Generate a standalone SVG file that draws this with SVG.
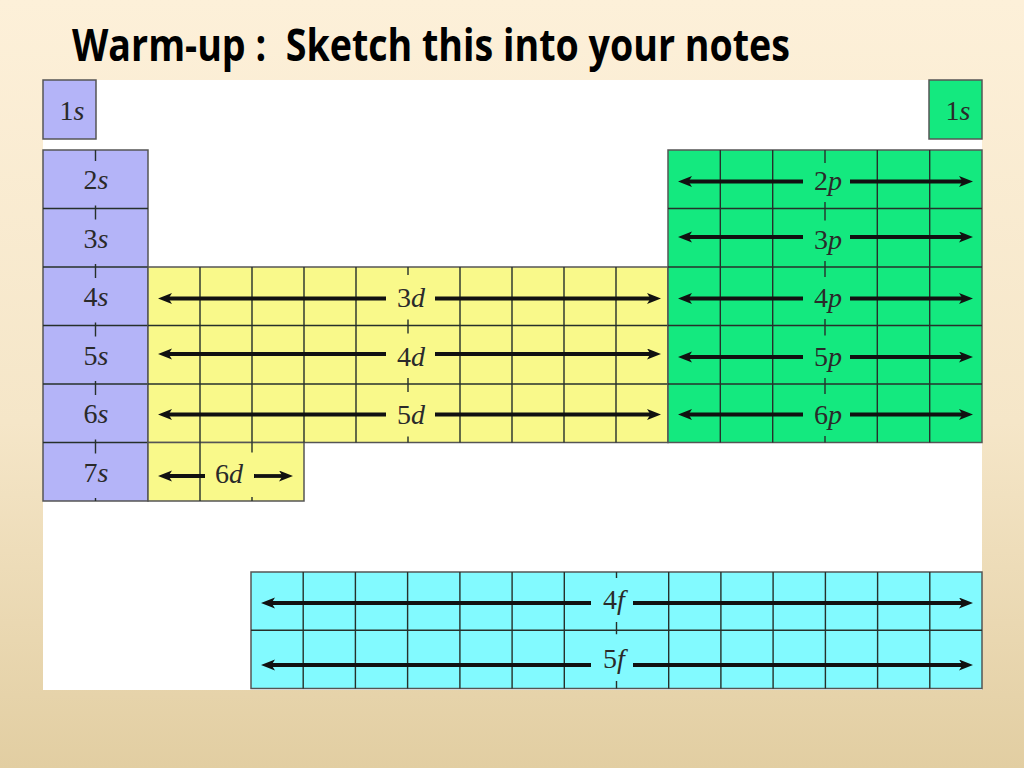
<svg xmlns="http://www.w3.org/2000/svg" width="1024" height="768" viewBox="0 0 1024 768">
<defs>
<linearGradient id="bg" x1="0" y1="0" x2="0" y2="1">
<stop offset="0" stop-color="#FDF0D9"/>
<stop offset="0.55" stop-color="#F5E6C8"/>
<stop offset="1" stop-color="#E2CEA2"/>
</linearGradient>
<marker id="ah" markerUnits="userSpaceOnUse" markerWidth="16" markerHeight="12" refX="6" refY="5.5" orient="auto">
<path d="M0,0 L14,5.5 L0,11 L3.5,5.5 z" fill="#111"/>
</marker>
<style>
.blk{stroke:#555;stroke-width:1.5}
.s{fill:#B4B4F8}
.d{fill:#F9F98A}
.p{fill:#14E97F}
.f{fill:#82FAFF}
.g{stroke:#26302b;stroke-width:1.4;fill:none}
.lbl{font-family:"Liberation Serif","Times New Roman",serif;font-size:28px;fill:#2a2a2a;text-anchor:middle}
.it{font-style:italic}
.ar{stroke:#111;stroke-width:3.8;fill:none;marker-end:url(#ah)}
.title{font-family:"Open Sans","Liberation Sans",sans-serif;font-weight:bold;font-size:44px;fill:#000}
</style>
</defs>
<rect x="0" y="0" width="1024" height="768" fill="url(#bg)"/>
<text class="title" x="72" y="61" textLength="718" lengthAdjust="spacingAndGlyphs" xml:space="preserve">Warm-up :  Sketch this into your notes</text>
<rect x="43" y="80" width="939" height="610" fill="#FFFFFF"/>

<g id="s-block">
<rect class="blk s" x="43" y="80" width="53" height="59"/>
<rect class="blk s" x="43" y="150" width="105" height="351"/>
<g class="g">
<line x1="43" y1="208.5" x2="148" y2="208.5"/>
<line x1="43" y1="267" x2="148" y2="267"/>
<line x1="43" y1="325.5" x2="148" y2="325.5"/>
<line x1="43" y1="384" x2="148" y2="384"/>
<line x1="43" y1="442.5" x2="148" y2="442.5"/>
<path d="M95.5,150v11M95.5,205.5v3M95.5,208.5v11M95.5,264v3M95.5,267v11M95.5,322.5v3M95.5,325.5v11M95.5,381v3M95.5,384v11M95.5,439.5v3M95.5,442.5v11M95.5,498v3"/>
</g>
<text class="lbl" x="72" y="120">1<tspan class="it">s</tspan></text>
<text class="lbl" x="96" y="189">2<tspan class="it">s</tspan></text>
<text class="lbl" x="96" y="247.5">3<tspan class="it">s</tspan></text>
<text class="lbl" x="96" y="306">4<tspan class="it">s</tspan></text>
<text class="lbl" x="96" y="364.5">5<tspan class="it">s</tspan></text>
<text class="lbl" x="96" y="423">6<tspan class="it">s</tspan></text>
<text class="lbl" x="96" y="481.5">7<tspan class="it">s</tspan></text>
</g>

<g id="he-1s">
<rect class="blk p" x="929" y="80" width="53" height="59"/>
<text class="lbl" x="958" y="120">1<tspan class="it">s</tspan></text>
</g>

<g id="d-block">
<rect class="blk d" x="148" y="267" width="520" height="175.5"/>
<rect class="blk d" x="148" y="442.5" width="156" height="58.5"/>
<g class="g">
<line x1="148" y1="325.5" x2="668" y2="325.5"/>
<line x1="148" y1="384" x2="668" y2="384"/>
<path d="M200,267V442.5M252,267V442.5M304,267V442.5M356,267V442.5M460,267V442.5M512,267V442.5M564,267V442.5M616,267V442.5"/>
<path d="M408,267v8M408,319.5v6M408,325.5v8M408,378v6M408,384v8M408,436.5v6"/>
<path d="M200,442.5V501M252,442.5v10M252,497v4"/>
</g>
<text class="lbl" x="411" y="307">3<tspan class="it">d</tspan></text>
<text class="lbl" x="411" y="365.5">4<tspan class="it">d</tspan></text>
<text class="lbl" x="411" y="424">5<tspan class="it">d</tspan></text>
<text class="lbl" x="229" y="482.5">6<tspan class="it">d</tspan></text>
</g>

<g id="p-block">
<rect class="blk p" x="668" y="150" width="314" height="292.5"/>
<g class="g">
<line x1="668" y1="208.5" x2="982" y2="208.5"/>
<line x1="668" y1="267" x2="982" y2="267"/>
<line x1="668" y1="325.5" x2="982" y2="325.5"/>
<line x1="668" y1="384" x2="982" y2="384"/>
<path d="M720.3,150V442.5M772.7,150V442.5M877.3,150V442.5M929.7,150V442.5"/>
<path d="M825,150v13M825,202v6.5M825,208.5v12M825,261v6M825,267v10M825,319v6.5M825,325.5v10M825,378v6M825,384v10M825,436v6.5"/>
</g>
<text class="lbl" x="828" y="190">2<tspan class="it">p</tspan></text>
<text class="lbl" x="828" y="248.5">3<tspan class="it">p</tspan></text>
<text class="lbl" x="828" y="307">4<tspan class="it">p</tspan></text>
<text class="lbl" x="828" y="365.5">5<tspan class="it">p</tspan></text>
<text class="lbl" x="828" y="424">6<tspan class="it">p</tspan></text>
</g>

<g id="f-block">
<rect class="blk f" x="251" y="572" width="731" height="116.5"/>
<g class="g">
<line x1="251" y1="630.3" x2="982" y2="630.3"/>
<path d="M303.2,572V688.5M355.4,572V688.5M407.6,572V688.5M459.9,572V688.5M512.1,572V688.5M564.3,572V688.5M668.7,572V688.5M720.9,572V688.5M773.1,572V688.5M825.4,572V688.5M877.6,572V688.5M929.8,572V688.5"/>
<path d="M616.5,572v6M616.5,622v8.3M616.5,630.3v4M616.5,681v7.5"/>
</g>
<text class="lbl" x="614" y="609">4<tspan class="it">f</tspan></text>
<text class="lbl" x="614" y="668">5<tspan class="it">f</tspan></text>
</g>

<g id="connectors">
<line class="ar" x1="386" y1="298.5" x2="166" y2="298.5"/>
<line class="ar" x1="435" y1="298.5" x2="653" y2="298.5"/>
<line class="ar" x1="386" y1="354" x2="166" y2="354"/>
<line class="ar" x1="435" y1="354" x2="653" y2="354"/>
<line class="ar" x1="386" y1="414.5" x2="166" y2="414.5"/>
<line class="ar" x1="435" y1="414.5" x2="653" y2="414.5"/>
<line class="ar" x1="205" y1="476" x2="166" y2="476"/>
<line class="ar" x1="254" y1="476" x2="285" y2="476"/>
<line class="ar" x1="803" y1="181.5" x2="686" y2="181.5"/>
<line class="ar" x1="850" y1="181.5" x2="965" y2="181.5"/>
<line class="ar" x1="803" y1="237" x2="686" y2="237"/>
<line class="ar" x1="850" y1="237" x2="965" y2="237"/>
<line class="ar" x1="803" y1="298.5" x2="686" y2="298.5"/>
<line class="ar" x1="850" y1="298.5" x2="965" y2="298.5"/>
<line class="ar" x1="803" y1="357" x2="686" y2="357"/>
<line class="ar" x1="850" y1="357" x2="965" y2="357"/>
<line class="ar" x1="803" y1="414.5" x2="686" y2="414.5"/>
<line class="ar" x1="850" y1="414.5" x2="965" y2="414.5"/>
<line class="ar" x1="591" y1="603" x2="269" y2="603"/>
<line class="ar" x1="633" y1="603" x2="965" y2="603"/>
<line class="ar" x1="591" y1="665" x2="269" y2="665"/>
<line class="ar" x1="633" y1="665" x2="965" y2="665"/>
</g>
</svg>
